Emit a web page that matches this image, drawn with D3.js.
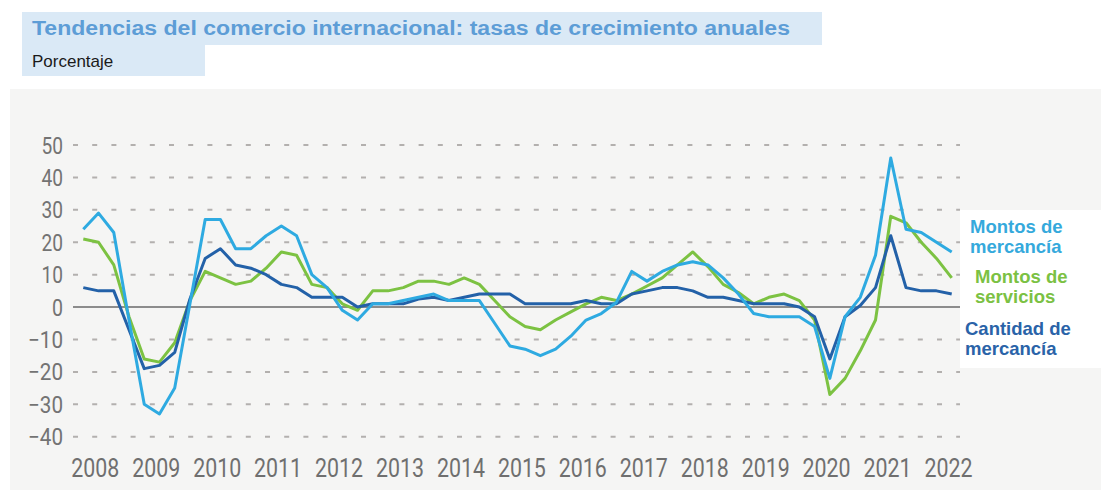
<!DOCTYPE html>
<html>
<head>
<meta charset="utf-8">
<script src="https://cdn.jsdelivr.net/npm/d3@7"></script>
<style>
  html, body { margin: 0; padding: 0; background: #ffffff; }
  svg { display: block; }
</style>
</head>
<body>
<svg id="chart" width="1101" height="490"></svg>
<script>
// Quarterly series, 2008 T1 – 2022 T2 (annual growth rates, %)
const years = ["2008","2009","2010","2011","2012","2013","2014","2015","2016","2017","2018","2019","2020","2021","2022"];
const yTicks = [-40, -30, -20, -10, 0, 10, 20, 30, 40, 50];

const montosMercancia = [
  24, 29, 23, -4, -30, -33, -25, 1, 27, 27, 18, 18, 22, 25, 22, 10,
  6, -1, -4, 1, 1, 2, 3, 4, 2, 2, 2, -5, -12, -13, -15, -13,
  -9, -4, -2, 1.5, 11, 8, 11, 13, 14, 13, 9, 4, -2, -3, -3, -3,
  -6, -22, -3, 3, 16, 46, 24, 23, 20, 17
];
const montosServicios = [
  21, 20, 13, -3, -16, -17, -11, 2, 11, 9, 7, 8, 12, 17, 16, 7,
  6, 1, -1, 5, 5, 6, 8, 8, 7, 9, 7, 2, -3, -6, -7, -4,
  -1.5, 1, 3, 2, 4, 6.5, 9, 13, 17, 12.5, 7, 4.5, 1, 3, 4, 2,
  -4, -27, -22, -13.5, -4, 28, 26, 20, 15, 9
];
const cantidadMercancia = [
  6, 5, 5, -7, -19, -18, -14, 2.5, 15, 18, 13, 12, 10, 7, 6, 3,
  3, 3, 0, 1, 1, 1, 2.5, 3, 2, 3, 4, 4, 4, 1, 1, 1,
  1, 2, 1, 1, 4, 5, 6, 6, 5, 3, 3, 2, 1, 1, 1, 0,
  -3, -16, -3, 0.5, 6, 22, 6, 5, 5, 4
];

const series = [
  { name: "Montos de servicios", values: montosServicios, color: "#7cc242" },
  { name: "Cantidad de mercancía", values: cantidadMercancia, color: "#2361a8" },
  { name: "Montos de mercancía", values: montosMercancia, color: "#2eaae1" }
];

const legendItems = [
  { lines: ["Montos de", "mercancía"], color: "#35a9dc", x: 970, y: 233 },
  { lines: ["Montos de", "servicios"], color: "#7bc143", x: 975, y: 283 },
  { lines: ["Cantidad de", "mercancía"], color: "#2a63a8", x: 965, y: 335 }
];

const svg = d3.select("#chart");

// Header boxes
svg.append("rect").attr("x", 22).attr("y", 12).attr("width", 800).attr("height", 33).attr("fill", "#dae9f6");
svg.append("rect").attr("x", 22).attr("y", 45).attr("width", 183).attr("height", 31).attr("fill", "#dae9f6");
svg.append("text")
  .attr("x", 32).attr("y", 35)
  .attr("font-family", "Liberation Sans, Arial, sans-serif")
  .attr("font-weight", "bold").attr("font-size", 20)
  .attr("textLength", 758).attr("lengthAdjust", "spacingAndGlyphs")
  .attr("fill", "#5d9dd6")
  .text("Tendencias del comercio internacional: tasas de crecimiento anuales");
svg.append("text")
  .attr("x", 32).attr("y", 67)
  .attr("font-family", "Liberation Sans, Arial, sans-serif")
  .attr("font-size", 17)
  .attr("fill", "#1a1a1a")
  .text("Porcentaje");

// Chart panel
svg.append("rect").attr("x", 10).attr("y", 89).attr("width", 1091).attr("height", 401).attr("fill", "#f5f5f4");

const nQ = montosMercancia.length;
const x = d3.scaleLinear().domain([0, nQ - 1]).range([83.3, 951.7]);
const y = d3.scaleLinear().domain([-40, 50]).range([436.7, 145]);

// Dashed gridlines
svg.append("g").selectAll("line")
  .data(yTicks.filter(d => d !== 0))
  .join("line")
  .attr("x1", 73).attr("x2", 960)
  .attr("y1", d => y(d)).attr("y2", d => y(d))
  .attr("stroke", "#b3b0ae").attr("stroke-width", 2)
  .attr("stroke-dasharray", "5,14.2");

// Zero line
svg.append("line")
  .attr("x1", 73).attr("x2", 961)
  .attr("y1", y(0)).attr("y2", y(0))
  .attr("stroke", "#8c8c8c").attr("stroke-width", 2);

// Y axis labels
const fmt = d => d < 0 ? "\u2212" + Math.abs(d) : String(d);
svg.append("g").selectAll("text")
  .data(yTicks)
  .join("text")
  .attr("x", 63).attr("y", d => y(d) + 8.5)
  .attr("text-anchor", "end")
  .attr("font-family", "Roboto, sans-serif")
  .attr("font-size", 23)
  .attr("fill", "#737373")
  .attr("textLength", d => d < 0 ? 35 : (d === 0 ? 11 : 21.5))
  .attr("lengthAdjust", "spacingAndGlyphs")
  .text(fmt);

// X axis year labels
svg.append("g").selectAll("text")
  .data(years)
  .join("text")
  .attr("x", (d, i) => x(i * 4) + 12)
  .attr("y", 477)
  .attr("text-anchor", "middle")
  .attr("font-family", "Roboto, sans-serif")
  .attr("font-size", 25)
  .attr("fill", "#6f6f6f")
  .attr("textLength", 48)
  .attr("lengthAdjust", "spacingAndGlyphs")
  .text(d => d);

// Series lines
const line = d3.line().x((d, i) => x(i)).y(d => y(d));
svg.append("g").selectAll("path")
  .data(series)
  .join("path")
  .attr("d", d => line(d.values))
  .attr("fill", "none")
  .attr("stroke", d => d.color)
  .attr("stroke-width", 3)
  .attr("stroke-linejoin", "round");

// Legend
svg.append("rect").attr("x", 960).attr("y", 210).attr("width", 141).attr("height", 158).attr("fill", "#ffffff");
const lg = svg.append("g").selectAll("text")
  .data(legendItems)
  .join("text")
  .attr("x", d => d.x).attr("y", d => d.y)
  .attr("font-family", "Liberation Sans, Arial, sans-serif")
  .attr("font-weight", "bold").attr("font-size", 18.5)
  .attr("fill", d => d.color);
lg.selectAll("tspan")
  .data(d => d.lines.map((t, k) => ({ t, k, x: d.x })))
  .join("tspan")
  .attr("x", d => d.x)
  .attr("dy", d => d.k === 0 ? 0 : 20)
  .text(d => d.t);
</script>
</body>
</html>
